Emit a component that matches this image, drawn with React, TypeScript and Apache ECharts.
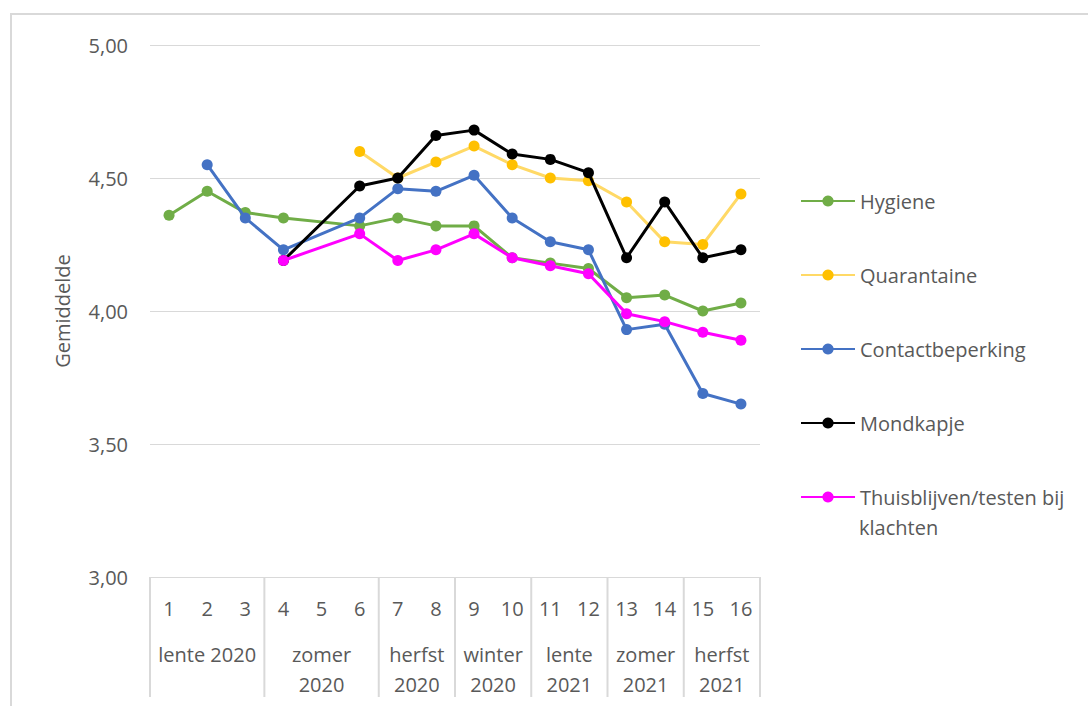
import React, { useEffect, useRef } from 'react';
import * as echarts from 'echarts';

const categories = ['1', '2', '3', '4', '5', '6', '7', '8', '9', '10', '11', '12', '13', '14', '15', '16'];
const groupLabels = ['lente 2020', 'zomer\n2020', 'herfst\n2020', 'winter\n2020', 'lente\n2021', 'zomer\n2021', 'herfst\n2021'];
const groupSizes = [3, 3, 2, 2, 2, 2, 2];

const seriesNames = ['Hygiene', 'Quarantaine', 'Contactbeperking', 'Mondkapje', 'Thuisblijven/testen bij klachten'];
const hygiene = [4.36, 4.45, 4.37, 4.35, null, 4.32, 4.35, 4.32, 4.32, 4.2, 4.18, 4.16, 4.05, 4.06, 4.0, 4.03];
const quarantaine = [null, null, null, null, null, 4.6, 4.5, 4.56, 4.62, 4.55, 4.5, 4.49, 4.41, 4.26, 4.25, 4.44];
const contactbeperking = [null, 4.55, 4.35, 4.23, null, 4.35, 4.46, 4.45, 4.51, 4.35, 4.26, 4.23, 3.93, 3.95, 3.69, 3.65];
const mondkapje = [null, null, null, 4.19, null, 4.47, 4.5, 4.66, 4.68, 4.59, 4.57, 4.52, 4.2, 4.41, 4.2, 4.23];
const thuisblijven = [null, null, null, 4.19, null, 4.29, 4.19, 4.23, 4.29, 4.2, 4.17, 4.14, 3.99, 3.96, 3.92, 3.89];

const lineColors = ['#70AD47', '#FFD966', '#4472C4', '#000000', '#FF00FF'];
const dotColors = ['#70AD47', '#FFC000', '#4472C4', '#000000', '#FF00FF'];

const FONT = 'Open Sans';
const TEXT = '#595959';
const GRID = '#d9d9d9';

export default function App() {
  const ref = useRef<HTMLDivElement>(null);
  useEffect(() => {
    document.body.style.margin = '0';
    const chart = echarts.init(ref.current!, undefined, { renderer: 'svg' });
    const allData = [hygiene, quarantaine, contactbeperking, mondkapje, thuisblijven];
    const series = allData.map((d, i) => ({
      name: seriesNames[i],
      type: 'line',
      data: d,
      connectNulls: true,
      symbol: 'circle',
      symbolSize: 11,
      lineStyle: { color: lineColors[i], width: 3 },
      itemStyle: { color: dotColors[i] },
      z: 2 + i,
    }));
    chart.setOption({
      animation: false,
      textStyle: { fontFamily: FONT },
      grid: { left: 150, right: 328, top: 45, bottom: 129 },
      legend: [
        {
          orient: 'vertical',
          left: 800,
          top: 186,
          padding: 0,
          itemWidth: 54,
          itemHeight: 14,
          itemGap: 44,
          data: seriesNames.slice(0, 4),
          textStyle: { color: TEXT, fontSize: 20, fontFamily: FONT, lineHeight: 30 },
        },
        {
          orient: 'vertical',
          left: 800,
          top: 482,
          padding: 0,
          itemWidth: 54,
          itemHeight: 14,
          data: [seriesNames[4]],
          formatter: () => 'Thuisblijven/testen bij',
          textStyle: { color: TEXT, fontSize: 20, fontFamily: FONT, lineHeight: 30 },
        },
      ],
      xAxis: {
        type: 'category',
        data: categories,
        boundaryGap: true,
        axisLine: { show: true, lineStyle: { color: GRID, width: 1 } },
        axisTick: { show: false },
        axisLabel: { color: TEXT, fontSize: 20, fontFamily: FONT, margin: 21, interval: 0 },
      },
      yAxis: {
        type: 'value',
        min: 3,
        max: 5,
        interval: 0.5,
        name: 'Gemiddelde',
        nameLocation: 'middle',
        nameRotate: 90,
        nameGap: 78,
        nameTextStyle: { color: TEXT, fontSize: 20, fontFamily: FONT },
        axisLine: { show: false },
        axisTick: { show: false },
        splitLine: { lineStyle: { color: GRID, width: 1 } },
        axisLabel: {
          color: TEXT,
          fontSize: 20,
          fontFamily: FONT,
          margin: 22,
          formatter: (v: number) => v.toFixed(2).replace('.', ','),
        },
      },
      series,
    });

    const c0 = chart.convertToPixel({ xAxisIndex: 0 }, 0) as number;
    const c1 = chart.convertToPixel({ xAxisIndex: 0 }, 1) as number;
    const bw = c1 - c0;
    const yBase = chart.convertToPixel({ yAxisIndex: 0 }, 3) as number;
    const elements: any[] = [
      {
        type: 'rect',
        shape: { x: 11, y: 14, width: 1200, height: 800 },
        style: { fill: 'none', stroke: GRID, lineWidth: 2 },
        silent: true,
      },
      {
        type: 'text',
        x: 859,
        y: 527,
        style: {
          text: 'klachten',
          align: 'left',
          verticalAlign: 'middle',
          fill: TEXT,
          font: `20px "${FONT}"`,
        },
      },
    ];
    let start = c0 - bw / 2;
    elements.push({
      type: 'line',
      shape: { x1: start, y1: yBase, x2: start, y2: yBase + 120 },
      style: { stroke: GRID, lineWidth: 2 },
    });
    groupSizes.forEach((n, i) => {
      const end = start + n * bw;
      elements.push({
        type: 'line',
        shape: { x1: end, y1: yBase, x2: end, y2: yBase + 120 },
        style: { stroke: GRID, lineWidth: 2 },
      });
      elements.push({
        type: 'text',
        x: (start + end) / 2,
        y: yBase + 62,
        style: {
          text: groupLabels[i],
          align: 'center',
          verticalAlign: 'top',
          fill: TEXT,
          font: `20px "${FONT}"`,
          lineHeight: 30,
        },
      });
      start = end;
    });
    chart.setOption({ graphic: elements });

    return () => chart.dispose();
  }, []);
  return <div ref={ref} style={{ width: 1088, height: 706 }} />;
}
